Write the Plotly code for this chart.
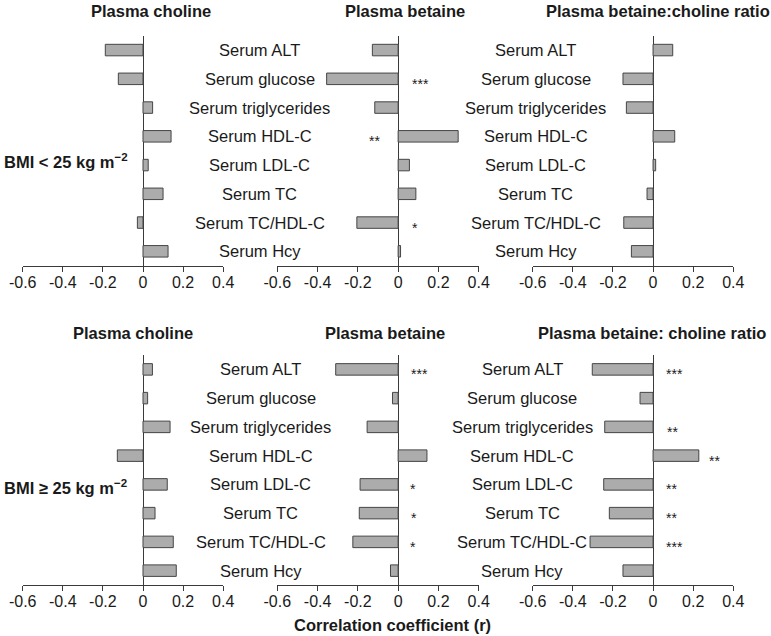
import plotly.graph_objects as go

categories = ["Serum ALT", "Serum glucose", "Serum triglycerides", "Serum HDL-C",
              "Serum LDL-C", "Serum TC", "Serum TC/HDL-C", "Serum Hcy"]

# BMI < 25
low_choline = [-0.188, -0.123, 0.048, 0.140, 0.026, 0.100, -0.028, 0.125]
low_betaine = [-0.128, -0.355, -0.116, 0.298, 0.056, 0.088, -0.205, 0.012]
low_ratio = [0.098, -0.150, -0.133, 0.108, 0.013, -0.030, -0.146, -0.108]
# BMI >= 25
high_choline = [0.047, 0.023, 0.135, -0.128, 0.121, 0.060, 0.151, 0.166]
high_betaine = [-0.310, -0.028, -0.154, 0.143, -0.189, -0.193, -0.225, -0.038]
high_ratio = [-0.303, -0.065, -0.241, 0.228, -0.246, -0.218, -0.314, -0.150]

# significance marks (text, x position in r units)
low_betaine_sig = ["", "***", "", "**", "", "", "*", ""]
low_betaine_sig_x = [0, 0.109, 0, -0.119, 0, 0, 0.086, 0]
high_betaine_sig = ["***", "", "", "", "*", "*", "*", ""]
high_betaine_sig_x = [0.104, 0, 0, 0, 0.075, 0.077, 0.075, 0]
high_ratio_sig = ["***", "", "**", "**", "**", "**", "***", ""]
high_ratio_sig_x = [0.105, 0, 0.095, 0.306, 0.09, 0.09, 0.105, 0]

panel_titles_row1 = ["Plasma choline", "Plasma betaine", "Plasma betaine:choline ratio"]
panel_titles_row2 = ["Plasma choline", "Plasma betaine", "Plasma betaine: choline ratio"]
x_ticks = [-0.6, -0.4, -0.2, 0, 0.2, 0.4]
x_tick_text = ["-0.6", "-0.4", "-0.2", "0", "0.2", "0.4"]
X_MIN, X_MAX = -0.6, 0.4

W, H = 771, 636
FONT = "Arial, Liberation Sans, sans-serif"
TXT = "#1a1a1a"
AX = "#3a3a3a"
FS = 16.5

xdom = [(22.7, 223.2), (277.3, 478.7), (532.7, 733.3)]
ydom = [(35.7, 265.7), (355.0, 585.0)]

fig = go.Figure()
series = [[low_choline, low_betaine, low_ratio], [high_choline, high_betaine, high_ratio]]

layout = dict(width=W, height=H, margin=dict(l=0, r=0, t=0, b=0, autoexpand=False),
              paper_bgcolor="white", plot_bgcolor="white", showlegend=False,
              font=dict(family=FONT, color=TXT, size=16))
annotations = []


def frac(v):
    # position of an r value within the axis domain (0..1)
    return (v - X_MIN) / (X_MAX - X_MIN)


for r in range(2):
    for c in range(3):
        idx = r * 3 + c + 1
        xa = "x" if idx == 1 else f"x{idx}"
        ya = "y" if idx == 1 else f"y{idx}"
        fig.add_trace(go.Bar(
            x=series[r][c], y=categories, orientation="h", width=0.4,
            marker=dict(color="#acacac", line=dict(color="#454545", width=1)),
            xaxis=xa, yaxis=ya, hoverinfo="x+y"))
        x0, x1 = xdom[c]
        yt, yb = ydom[r]
        layout["xaxis" if idx == 1 else f"xaxis{idx}"] = dict(
            domain=[x0 / W, x1 / W], anchor=ya, range=[X_MIN, X_MAX], automargin=False,
            tickvals=x_ticks, ticktext=x_tick_text, ticks="outside", ticklen=5,
            ticklabelstandoff=-3,
            tickcolor=AX, tickwidth=1, showline=True, linecolor=AX, linewidth=1,
            showgrid=False, zeroline=True, zerolinecolor=AX, zerolinewidth=1.2,
            tickfont=dict(size=16, color=TXT, family=FONT))
        layout["yaxis" if idx == 1 else f"yaxis{idx}"] = dict(
            domain=[(H - yb) / H, (H - yt) / H], anchor=xa, type="category", automargin=False,
            categoryorder="array", categoryarray=categories, range=[7.5, -0.5],
            showticklabels=False, ticks="", showline=False, showgrid=False, zeroline=False)

# category label columns (centre positions in each panel's r units)
label_cols = [(2, -0.687), (3, -0.586), (5, -0.682), (6, -0.653)]
for idx, xv in label_cols:
    for cat in categories:
        annotations.append(dict(x=frac(xv), y=cat, xref=f"x{idx} domain", yref=f"y{idx}",
                                text=cat, showarrow=False, xanchor="center",
                                font=dict(size=FS, color=TXT, family=FONT)))

for idx, sig, sx in [(2, low_betaine_sig, low_betaine_sig_x),
                     (5, high_betaine_sig, high_betaine_sig_x),
                     (6, high_ratio_sig, high_ratio_sig_x)]:
    for cat, s, xv in zip(categories, sig, sx):
        if s:
            annotations.append(dict(x=frac(xv), y=cat, xref=f"x{idx} domain", yref=f"y{idx}",
                                    text=s, showarrow=False, xanchor="center",
                                    yshift=-5, font=dict(size=14, color=TXT, family=FONT)))

title_pos = [(151.3, 405.3, 657.5, 11.0), (133.0, 384.7, 652.0, 333.3)]
for r, titles in enumerate([panel_titles_row1, panel_titles_row2]):
    px = title_pos[r]
    for c in range(3):
        annotations.append(dict(x=px[c] / W, y=(H - px[3]) / H, xref="paper", yref="paper",
                                text=f"<b>{titles[c]}</b>", showarrow=False,
                                xanchor="center", yanchor="middle",
                                font=dict(size=FS, color=TXT, family=FONT)))

annotations.append(dict(x=1.5 / W, y=(H - 160.7) / H, xref="paper", yref="paper",
                        text="<b>BMI &lt; 25 kg m<sup>−2</sup></b>", showarrow=False,
                        xanchor="left", yanchor="middle", font=dict(size=FS, color=TXT, family=FONT)))
annotations.append(dict(x=1.5 / W, y=(H - 487.3) / H, xref="paper", yref="paper",
                        text="<b>BMI ≥ 25 kg m<sup>−2</sup></b>", showarrow=False,
                        xanchor="left", yanchor="middle", font=dict(size=FS, color=TXT, family=FONT)))
annotations.append(dict(x=392.3 / W, y=(H - 625) / H, xref="paper", yref="paper",
                        text="<b>Correlation coefficient (r)</b>", showarrow=False,
                        xanchor="center", yanchor="middle", font=dict(size=FS, color=TXT, family=FONT)))

layout["annotations"] = annotations
fig.update_layout(**layout)
fig.write_html("out.html", config={"displayModeBar": False},
               post_script="document.body.style.margin='0';document.body.style.overflow='hidden';")
